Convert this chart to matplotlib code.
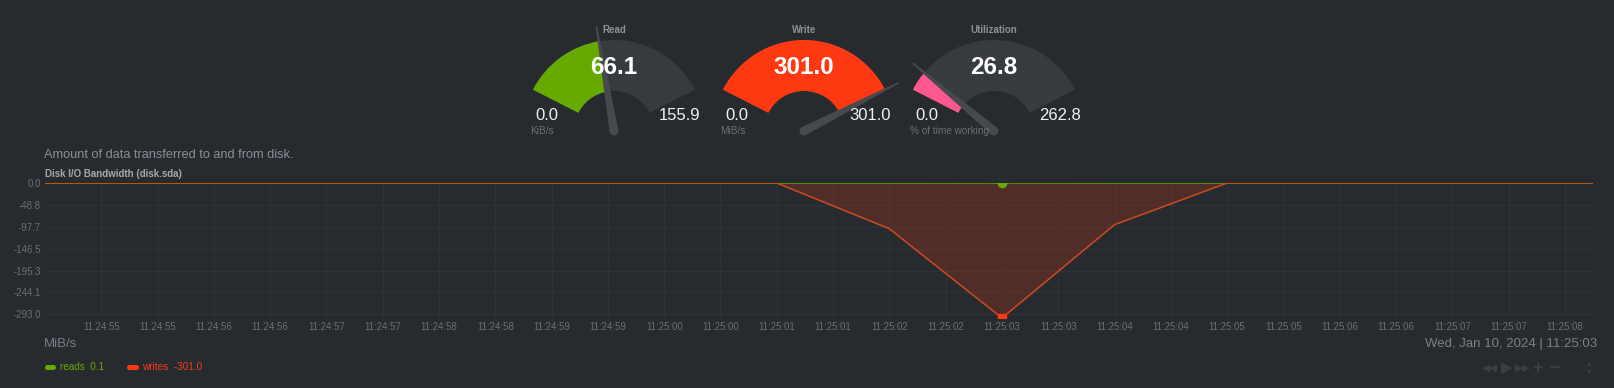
import numpy as np
import pandas as pd
import matplotlib
matplotlib.use('Agg')
import matplotlib.pyplot as plt
from matplotlib.patches import Wedge, Polygon, Circle, FancyBboxPatch

plt.rcParams['font.family'] = ['Liberation Sans', 'DejaVu Sans']

# ---- data ----
times = ['11:24:54', '11:24:55', '11:24:56', '11:24:57', '11:24:58', '11:24:59',
         '11:25:00', '11:25:01', '11:25:02', '11:25:03', '11:25:04', '11:25:05',
         '11:25:06', '11:25:07', '11:25:08', '11:25:09']
reads = [0, 0, 0, 0, 0, 0, 0, 0, 0, 0.1, 0, 0, 0, 0, 0, 0]
writes = [0, 0, 0, 0, 0, 0, 0, 0, -102.0, -301.0, -93.0, 0, 0, 0, 0, 0]
ytick_vals = [0.0, -48.8, -97.7, -146.5, -195.3, -244.1, -293.0]
xtick_labels = ['11:24:55', '11:24:55', '11:24:56', '11:24:56', '11:24:57', '11:24:57',
                '11:24:58', '11:24:58', '11:24:59', '11:24:59', '11:25:00', '11:25:00',
                '11:25:01', '11:25:01', '11:25:02', '11:25:02', '11:25:03', '11:25:03',
                '11:25:04', '11:25:04', '11:25:05', '11:25:05', '11:25:06', '11:25:06',
                '11:25:07', '11:25:07', '11:25:08']

gauge_titles = ['Read', 'Write', 'Utilization']
gauge_values = [66.1, 301.0, 26.8]
gauge_max = [155.9, 301.0, 262.8]
gauge_units = ['KiB/s', 'MiB/s', '% of time working']
gauge_colors = ['#66aa00', '#fe3912', '#ff5890']

BG = '#272b30'
W, H = 1615, 388

fig = plt.figure(figsize=(W / 100, H / 100), dpi=100, facecolor=BG)

# ---- main chart ----
secs = pd.to_timedelta(times).total_seconds().values
t0 = pd.to_timedelta('11:24:55').total_seconds()
x = secs - t0
ax = fig.add_axes([45 / W, 1 - 318 / H, (1593 - 45) / W, (318 - 183) / H])
ax.set_facecolor(BG)
ax.fill_between(x, writes, 0, color='#fe3912', alpha=0.2, lw=0)
ax.plot(x, reads, color='#5c9a00', lw=1.2)
ax.plot(x, writes, color='#cf4a1c', lw=1.1)
ipk = int(np.argmin(writes))
ax.plot(x[ipk], writes[ipk], marker='s', ms=6, color='#fe3912', clip_on=True)
ax.plot(x[ipk], reads[ipk], marker='o', ms=6, color='#66aa00', clip_on=True)

ax.set_xlim(-0.5, 13.25)
ax.set_ylim(-301, 0)
ax.set_yticks(ytick_vals)
ax.set_yticklabels(['%.1f' % v for v in ytick_vals])
ax.set_xticks([0.5 * k for k in range(len(xtick_labels))])
ax.set_xticklabels(xtick_labels)
ax.tick_params(length=0, colors='#6c7075', labelsize=7, pad=3)
ax.grid(True, color='#2c3437', lw=0.8)
ax.set_axisbelow(True)
for s in ax.spines.values():
    s.set_visible(False)

# ---- overlay in pixel coordinates ----
ov = fig.add_axes([0, 0, 1, 1])
ov.set_xlim(0, W)
ov.set_ylim(0, H)
ov.axis('off')
ov.patch.set_alpha(0)


def py(y):
    return H - y


centers = [614, 804, 994]
cy = 131
r_out, r_in = 91, 40
a_start, a_span = 153, 126
for i in range(3):
    cx = centers[i]
    frac = gauge_values[i] / gauge_max[i]
    ang = a_start - frac * a_span
    ov.add_patch(Wedge((cx, py(cy)), r_out, a_start - a_span, a_start,
                       width=r_out - r_in, color='#373a3f', lw=0))
    ov.add_patch(Wedge((cx, py(cy)), r_out, ang, a_start,
                       width=r_out - r_in, color=gauge_colors[i], lw=0))
    # pointer
    L = 106
    a = np.deg2rad(ang)
    d = np.array([np.cos(a), np.sin(a)])
    p = np.array([-d[1], d[0]])
    c = np.array([cx, py(cy)])
    pts = [c + 4.5 * p, c + L * d + 0.8 * p, c + L * d - 0.8 * p, c - 4.5 * p]
    ov.add_patch(Polygon(pts, closed=True, color='#46494e', lw=0, zorder=3))
    ov.add_patch(Circle(c, 4.5, color='#46494e', lw=0, zorder=3))

    ov.text(cx, py(30), gauge_titles[i], ha='center', va='center',
            color='#8d9196', fontsize=7, fontweight='bold')
    ov.text(cx, py(68), '%.1f' % gauge_values[i], ha='center', va='center',
            color='white', fontsize=17.5, fontweight='bold', zorder=4)
    ov.text(cx - 67, py(116), '0.0', ha='center', va='center',
            color='#f0f0f0', fontsize=12)
    ov.text(cx + 66, py(116), '%.1f' % gauge_max[i], ha='center', va='center',
            color='#f0f0f0', fontsize=12)
    ov.text(cx - 84, py(131), gauge_units[i], ha='left', va='center',
            color='#6c7075', fontsize=7.2)

# texts around chart
ov.text(44, py(155), 'Amount of data transferred to and from disk.', ha='left',
        va='center', color='#8a8f95', fontsize=9.2)
ov.text(45, py(174), 'Disk I/O Bandwidth (disk.sda)', ha='left', va='center',
        color='#a4a8ad', fontsize=7, fontweight='bold')
ov.text(44, py(344), 'MiB/s', ha='left', va='center', color='#7c8086', fontsize=9.5)
ov.text(1597, py(344), 'Wed, Jan 10, 2024 | 11:25:03', ha='right', va='center',
        color='#7c8086', fontsize=9.5)

# legend
ov.add_patch(FancyBboxPatch((45, py(370)), 11, 5, boxstyle='round,pad=0,rounding_size=2.5',
                            color='#66aa00', lw=0))
ov.text(60, py(367), 'reads  0.1', ha='left', va='center', color='#66aa00', fontsize=7.2)
ov.add_patch(FancyBboxPatch((127, py(370)), 12, 5, boxstyle='round,pad=0,rounding_size=2.5',
                            color='#fe3912', lw=0))
ov.text(142, py(367), 'writes  -301.0', ha='left', va='center', color='#fe3912',
        fontsize=7.2)

# dim toolbox controls
ctl = '#3b3f45'
ov.text(1490, py(368), '\u25c0\u25c0', ha='center', va='center', color=ctl, fontsize=7.5)
ov.text(1507, py(368), '\u25b6', ha='center', va='center', color=ctl, fontsize=11)
ov.text(1523, py(368), '\u25b6\u25b6', ha='center', va='center', color=ctl, fontsize=7.5)
ov.text(1538, py(368), '+', ha='center', va='center', color=ctl, fontsize=13,
        fontweight='bold')
ov.text(1555, py(368), '\u2212', ha='center', va='center', color=ctl, fontsize=13,
        fontweight='bold')
ov.text(1589, py(365), '\u25b2', ha='center', va='center', color=ctl, fontsize=5)
ov.text(1589, py(372), '\u25bc', ha='center', va='center', color=ctl, fontsize=5)

fig.savefig('out.png', dpi=100, facecolor=BG)
